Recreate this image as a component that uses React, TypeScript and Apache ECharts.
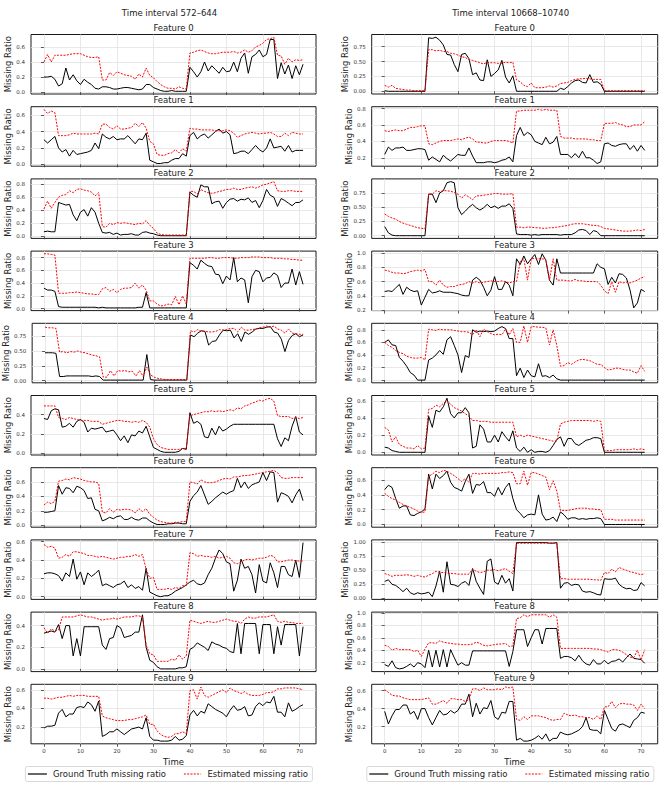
import React, { useEffect, useRef } from "react";
import * as echarts from "echarts";

// ---------- data ----------
const timeIdx: number[] = Array.from({ length: 72 }, (_, i) => i);
const xTicks = [0, 10, 20, 30, 40, 50, 60, 70];
const columnTitles = ["Time interval 572\u2013644", "Time interval 10668\u201310740"];
const featureNames = ["Feature 0", "Feature 1", "Feature 2", "Feature 3", "Feature 4", "Feature 5", "Feature 6", "Feature 7", "Feature 8", "Feature 9"];
const seriesNames = ["Ground Truth missing ratio", "Estimated missing ratio"];

// Left column (572–644)
const L0_gt = [0.20,0.20,0.21,0.17,0.08,0.11,0.32,0.16,0.23,0.15, 0.10,0.17,0.13,0.10,0.05,0.04,0.07,0.07,0.06,0.04, 0.04,0.05,0.06,0.06,0.05,0.04,0.03,0.04,0.10,0.10, 0.06,0.04,0.02,0.01,0.01,0.02,0.01,0.01,0.01,0.01, 0.33,0.27,0.20,0.27,0.40,0.28,0.35,0.30,0.25,0.33, 0.27,0.28,0.40,0.27,0.45,0.52,0.25,0.47,0.50,0.56, 0.47,0.50,0.70,0.70,0.18,0.39,0.24,0.36,0.18,0.35, 0.23,0.37];
const L0_est = [0.40,0.50,0.40,0.49,0.49,0.49,0.49,0.50,0.51,0.51, 0.51,0.49,0.47,0.46,0.46,0.47,0.16,0.16,0.26,0.22, 0.27,0.25,0.23,0.22,0.21,0.17,0.24,0.20,0.32,0.22, 0.19,0.14,0.10,0.07,0.05,0.05,0.04,0.07,0.05,0.04, 0.52,0.53,0.55,0.56,0.54,0.52,0.51,0.51,0.52,0.53, 0.53,0.53,0.54,0.52,0.53,0.56,0.53,0.55,0.60,0.62, 0.65,0.70,0.71,0.73,0.49,0.48,0.37,0.45,0.40,0.43, 0.42,0.43];
const L1_gt = [0.30,0.26,0.30,0.34,0.20,0.15,0.18,0.10,0.17,0.12, 0.13,0.14,0.15,0.17,0.26,0.19,0.37,0.33,0.31,0.34, 0.30,0.31,0.31,0.35,0.30,0.25,0.31,0.30,0.38,0.05, 0.03,0.01,0.01,0.02,0.02,0.05,0.07,0.07,0.13,0.10, 0.35,0.39,0.31,0.35,0.37,0.32,0.36,0.40,0.43,0.38, 0.40,0.36,0.13,0.14,0.16,0.16,0.13,0.18,0.23,0.18, 0.15,0.20,0.31,0.20,0.21,0.22,0.16,0.23,0.15,0.17, 0.17,0.17];
const L1_est = [0.67,0.62,0.65,0.63,0.35,0.35,0.35,0.36,0.38,0.37, 0.37,0.37,0.37,0.37,0.38,0.37,0.49,0.49,0.45,0.43, 0.47,0.43,0.43,0.44,0.45,0.50,0.46,0.51,0.44,0.28, 0.25,0.12,0.11,0.11,0.13,0.14,0.18,0.14,0.19,0.16, 0.44,0.43,0.43,0.42,0.42,0.42,0.42,0.41,0.41,0.41, 0.42,0.41,0.38,0.33,0.35,0.37,0.38,0.39,0.38,0.37, 0.38,0.38,0.39,0.37,0.34,0.34,0.38,0.35,0.39,0.38, 0.37,0.37];
const L2_gt = [0.07,0.08,0.07,0.07,0.52,0.50,0.48,0.49,0.33,0.24, 0.37,0.41,0.31,0.44,0.37,0.20,0.06,0.05,0.06,0.03, 0.05,0.02,0.03,0.03,0.04,0.02,0.02,0.06,0.07,0.05, 0.04,0.02,0.01,0.01,0.01,0.01,0.01,0.01,0.01,0.01, 0.68,0.63,0.60,0.79,0.76,0.76,0.50,0.53,0.54,0.43, 0.52,0.57,0.58,0.54,0.57,0.56,0.59,0.52,0.55,0.44, 0.55,0.72,0.63,0.60,0.46,0.58,0.55,0.51,0.47,0.52, 0.52,0.56];
const L2_est = [0.42,0.54,0.43,0.52,0.60,0.63,0.64,0.70,0.67,0.72, 0.73,0.71,0.70,0.68,0.62,0.67,0.15,0.14,0.20,0.18, 0.21,0.20,0.21,0.20,0.19,0.18,0.20,0.19,0.24,0.17, 0.12,0.05,0.03,0.02,0.02,0.02,0.02,0.02,0.02,0.02, 0.69,0.69,0.65,0.72,0.69,0.67,0.66,0.67,0.69,0.70, 0.72,0.72,0.74,0.72,0.72,0.74,0.75,0.76,0.74,0.76, 0.79,0.80,0.82,0.84,0.70,0.69,0.69,0.70,0.70,0.69, 0.69,0.69];
const L3_gt = [0.32,0.29,0.29,0.27,0.03,0.02,0.02,0.02,0.02,0.02, 0.02,0.02,0.02,0.02,0.02,0.01,0.02,0.01,0.01,0.01, 0.01,0.01,0.01,0.01,0.01,0.01,0.02,0.02,0.25,0.01, 0.01,0.01,0.01,0.01,0.01,0.01,0.01,0.01,0.01,0.01, 0.72,0.68,0.62,0.76,0.71,0.67,0.66,0.54,0.53,0.39, 0.51,0.45,0.80,0.42,0.48,0.45,0.09,0.50,0.60,0.58, 0.42,0.48,0.49,0.56,0.52,0.33,0.40,0.40,0.62,0.37, 0.58,0.38];
const L3_est = [0.86,0.86,0.85,0.84,0.24,0.24,0.24,0.25,0.25,0.26, 0.25,0.24,0.23,0.23,0.22,0.22,0.31,0.33,0.27,0.30, 0.25,0.30,0.32,0.32,0.33,0.40,0.32,0.37,0.29,0.12, 0.12,0.07,0.04,0.05,0.07,0.06,0.19,0.06,0.20,0.07, 0.79,0.79,0.79,0.79,0.79,0.80,0.80,0.79,0.79,0.80, 0.80,0.80,0.79,0.79,0.80,0.80,0.80,0.81,0.81,0.81, 0.80,0.80,0.80,0.79,0.79,0.79,0.78,0.78,0.77,0.77, 0.76,0.76];
const L4_gt = [0.47,0.47,0.47,0.46,0.07,0.07,0.08,0.08,0.08,0.08, 0.08,0.08,0.08,0.07,0.08,0.07,0.01,0.01,0.01,0.01, 0.01,0.01,0.01,0.01,0.01,0.01,0.01,0.01,0.44,0.02, 0.01,0.01,0.01,0.01,0.01,0.01,0.01,0.01,0.01,0.01, 0.77,0.74,0.80,0.84,0.83,0.60,0.66,0.67,0.77,0.85, 0.84,0.85,0.72,0.79,0.66,0.82,0.78,0.82,0.87,0.88, 0.88,0.90,0.91,0.82,0.80,0.70,0.49,0.68,0.76,0.79, 0.74,0.77];
const L4_est = [0.90,0.89,0.89,0.88,0.48,0.49,0.47,0.49,0.48,0.50, 0.48,0.47,0.45,0.43,0.42,0.40,0.06,0.06,0.17,0.08, 0.17,0.16,0.17,0.15,0.16,0.08,0.17,0.07,0.23,0.10, 0.06,0.04,0.03,0.02,0.02,0.02,0.02,0.02,0.02,0.02, 0.84,0.82,0.86,0.83,0.83,0.82,0.82,0.83,0.86,0.85, 0.86,0.88,0.88,0.82,0.90,0.85,0.85,0.86,0.87,0.89, 0.90,0.92,0.90,0.92,0.87,0.85,0.80,0.87,0.80,0.79, 0.78,0.78];
const L5_gt = [0.36,0.35,0.44,0.46,0.45,0.27,0.28,0.31,0.27,0.33, 0.35,0.32,0.22,0.26,0.25,0.26,0.27,0.22,0.23,0.24, 0.19,0.13,0.18,0.11,0.19,0.18,0.23,0.21,0.28,0.17, 0.06,0.04,0.02,0.01,0.01,0.01,0.01,0.02,0.05,0.04, 0.42,0.31,0.33,0.30,0.17,0.16,0.26,0.19,0.28,0.23, 0.25,0.28,0.30,0.30,0.30,0.30,0.30,0.30,0.30,0.30, 0.30,0.30,0.30,0.30,0.15,0.07,0.16,0.13,0.28,0.38, 0.22,0.19];
const L5_est = [0.49,0.49,0.49,0.49,0.37,0.36,0.35,0.37,0.36,0.35, 0.34,0.34,0.34,0.33,0.33,0.33,0.30,0.31,0.32,0.33, 0.34,0.34,0.33,0.33,0.32,0.33,0.32,0.34,0.32,0.27, 0.15,0.09,0.06,0.05,0.04,0.04,0.04,0.04,0.05,0.05, 0.39,0.40,0.41,0.42,0.43,0.43,0.44,0.43,0.44,0.43, 0.44,0.45,0.44,0.47,0.46,0.49,0.50,0.52,0.53,0.55, 0.54,0.56,0.57,0.54,0.39,0.38,0.38,0.38,0.36,0.37, 0.36,0.37];
const L6_gt = [0.18,0.18,0.19,0.20,0.55,0.43,0.52,0.51,0.45,0.54, 0.52,0.48,0.37,0.38,0.22,0.20,0.06,0.08,0.11,0.09, 0.12,0.13,0.08,0.08,0.11,0.08,0.07,0.10,0.10,0.06, 0.03,0.01,0.01,0.01,0.02,0.02,0.03,0.03,0.02,0.02, 0.33,0.41,0.46,0.55,0.42,0.29,0.33,0.38,0.42,0.46, 0.43,0.46,0.48,0.65,0.52,0.60,0.51,0.56,0.58,0.60, 0.73,0.62,0.74,0.73,0.32,0.45,0.43,0.40,0.31,0.42, 0.50,0.34];
const L6_est = [0.28,0.32,0.30,0.33,0.61,0.62,0.64,0.63,0.66,0.65, 0.64,0.62,0.61,0.60,0.60,0.58,0.18,0.17,0.23,0.18, 0.22,0.21,0.22,0.22,0.21,0.17,0.23,0.19,0.23,0.15, 0.11,0.07,0.05,0.04,0.03,0.03,0.04,0.04,0.05,0.05, 0.60,0.59,0.57,0.63,0.60,0.59,0.59,0.60,0.62,0.64, 0.65,0.64,0.67,0.67,0.68,0.69,0.69,0.70,0.71,0.72, 0.73,0.74,0.75,0.76,0.73,0.66,0.65,0.65,0.66,0.66, 0.66,0.66];
const L7_gt = [0.25,0.26,0.26,0.25,0.23,0.17,0.26,0.22,0.41,0.19, 0.27,0.13,0.26,0.22,0.25,0.29,0.12,0.14,0.12,0.10, 0.13,0.14,0.17,0.10,0.13,0.09,0.11,0.07,0.31,0.05, 0.03,0.01,0.00,0.01,0.01,0.03,0.06,0.08,0.10,0.13, 0.16,0.18,0.14,0.13,0.15,0.24,0.31,0.42,0.51,0.47, 0.38,0.36,0.06,0.18,0.41,0.31,0.33,0.24,0.04,0.35, 0.17,0.15,0.37,0.26,0.10,0.33,0.33,0.24,0.22,0.40, 0.21,0.59];
const L7_est = [0.57,0.54,0.55,0.53,0.42,0.43,0.46,0.44,0.49,0.49, 0.48,0.47,0.45,0.45,0.44,0.43,0.44,0.43,0.42,0.41, 0.42,0.43,0.43,0.44,0.44,0.46,0.44,0.46,0.30,0.20, 0.21,0.08,0.08,0.08,0.09,0.08,0.10,0.09,0.12,0.12, 0.48,0.47,0.44,0.45,0.44,0.44,0.43,0.44,0.42,0.43, 0.44,0.42,0.37,0.36,0.38,0.40,0.41,0.40,0.41,0.42, 0.42,0.43,0.45,0.44,0.38,0.38,0.39,0.40,0.40,0.39, 0.39,0.39];
const L8_gt = [0.33,0.34,0.35,0.34,0.41,0.28,0.40,0.40,0.12,0.28, 0.12,0.39,0.39,0.39,0.39,0.39,0.22,0.18,0.28,0.29, 0.40,0.38,0.29,0.30,0.31,0.34,0.34,0.50,0.20,0.08, 0.06,0.02,0.00,0.00,0.00,0.00,0.00,0.01,0.01,0.02, 0.18,0.20,0.24,0.22,0.20,0.17,0.25,0.23,0.22,0.20, 0.19,0.16,0.15,0.42,0.14,0.42,0.42,0.42,0.42,0.14, 0.41,0.41,0.41,0.14,0.39,0.22,0.41,0.41,0.41,0.41, 0.12,0.39];
const L8_est = [0.38,0.33,0.37,0.35,0.36,0.48,0.48,0.48,0.48,0.49, 0.50,0.49,0.48,0.48,0.47,0.46,0.45,0.46,0.46,0.47, 0.46,0.47,0.48,0.48,0.48,0.49,0.49,0.48,0.22,0.14, 0.13,0.07,0.07,0.07,0.07,0.09,0.08,0.13,0.09,0.12, 0.45,0.44,0.43,0.42,0.43,0.44,0.43,0.43,0.44,0.45, 0.46,0.45,0.44,0.44,0.42,0.46,0.48,0.47,0.47,0.48, 0.48,0.48,0.49,0.50,0.44,0.43,0.44,0.43,0.43,0.42, 0.42,0.42];
const L9_gt = [0.19,0.21,0.21,0.22,0.35,0.39,0.31,0.34,0.34,0.41, 0.42,0.41,0.47,0.44,0.37,0.48,0.10,0.12,0.15,0.15, 0.18,0.15,0.12,0.15,0.18,0.19,0.20,0.18,0.30,0.10, 0.06,0.06,0.05,0.05,0.05,0.06,0.10,0.06,0.07,0.11, 0.33,0.38,0.32,0.37,0.35,0.45,0.42,0.39,0.37,0.35, 0.31,0.38,0.43,0.38,0.39,0.42,0.32,0.33,0.42,0.46, 0.43,0.47,0.46,0.53,0.36,0.36,0.31,0.46,0.37,0.39, 0.42,0.44];
const L9_est = [0.51,0.51,0.50,0.51,0.52,0.52,0.53,0.54,0.53,0.54, 0.54,0.54,0.53,0.53,0.53,0.53,0.32,0.30,0.29,0.28, 0.27,0.27,0.27,0.28,0.28,0.29,0.30,0.31,0.33,0.23, 0.23,0.16,0.12,0.10,0.09,0.10,0.13,0.13,0.15,0.13, 0.59,0.60,0.50,0.63,0.54,0.52,0.54,0.56,0.58,0.60, 0.57,0.62,0.59,0.58,0.56,0.58,0.55,0.54,0.54,0.54, 0.55,0.57,0.57,0.58,0.61,0.61,0.62,0.62,0.62,0.62, 0.61,0.60];

// Right column (10668–10740)
const R0_gt = [0.01,0.00,0.00,0.00,0.00,0.00,0.00,0.00,0.00,0.00, 0.00,0.00,0.90,0.89,0.91,0.86,0.78,0.62,0.61,0.45, 0.33,0.62,0.64,0.55,0.28,0.31,0.19,0.18,0.53,0.25, 0.30,0.36,0.52,0.24,0.14,0.26,0.00,0.00,0.00,0.00, 0.00,0.00,0.00,0.00,0.00,0.00,0.00,0.00,0.05,0.03, 0.08,0.14,0.18,0.19,0.15,0.14,0.28,0.15,0.16,0.12, 0.00,0.00,0.00,0.00,0.00,0.00,0.00,0.00,0.00,0.00, 0.00,0.00];
const R0_est = [0.10,0.07,0.10,0.05,0.04,0.03,0.02,0.02,0.01,0.01, 0.01,0.01,0.70,0.70,0.68,0.69,0.67,0.67,0.64,0.63, 0.61,0.58,0.57,0.53,0.52,0.50,0.48,0.46,0.49,0.48, 0.48,0.47,0.47,0.49,0.48,0.49,0.19,0.16,0.10,0.08, 0.14,0.06,0.06,0.06,0.07,0.09,0.07,0.09,0.13,0.14, 0.15,0.18,0.20,0.21,0.21,0.22,0.21,0.20,0.20,0.20, 0.01,0.01,0.01,0.01,0.01,0.01,0.01,0.01,0.01,0.01, 0.01,0.01];
const R1_gt = [0.24,0.33,0.29,0.32,0.32,0.33,0.29,0.29,0.30,0.31, 0.31,0.30,0.17,0.21,0.18,0.15,0.23,0.19,0.16,0.20, 0.24,0.23,0.23,0.32,0.22,0.14,0.14,0.14,0.15,0.15, 0.14,0.15,0.17,0.18,0.21,0.15,0.47,0.57,0.47,0.51, 0.48,0.40,0.38,0.36,0.45,0.37,0.39,0.46,0.24,0.24, 0.24,0.20,0.25,0.20,0.28,0.20,0.20,0.17,0.13,0.15, 0.37,0.38,0.35,0.34,0.36,0.37,0.37,0.30,0.35,0.28, 0.35,0.29];
const R1_est = [0.53,0.52,0.53,0.54,0.53,0.53,0.55,0.57,0.57,0.58, 0.59,0.59,0.37,0.36,0.38,0.40,0.41,0.41,0.41,0.42, 0.43,0.42,0.44,0.45,0.43,0.39,0.39,0.38,0.38,0.40, 0.41,0.41,0.41,0.41,0.40,0.38,0.77,0.77,0.78,0.78, 0.78,0.78,0.79,0.78,0.79,0.78,0.78,0.78,0.46,0.44, 0.44,0.44,0.43,0.43,0.43,0.43,0.42,0.42,0.41,0.41, 0.62,0.62,0.62,0.63,0.61,0.60,0.58,0.58,0.60,0.60, 0.60,0.64];
const R2_gt = [0.16,0.05,0.01,0.00,0.00,0.00,0.00,0.00,0.00,0.00, 0.00,0.00,0.73,0.73,0.58,0.75,0.79,0.93,0.95,0.93, 0.49,0.37,0.43,0.50,0.55,0.49,0.45,0.49,0.55,0.49, 0.52,0.48,0.52,0.52,0.56,0.48,0.03,0.02,0.02,0.02, 0.01,0.02,0.01,0.02,0.02,0.02,0.02,0.02,0.01,0.02, 0.02,0.02,0.05,0.10,0.11,0.09,0.02,0.09,0.07,0.00, 0.00,0.00,0.00,0.00,0.00,0.00,0.00,0.00,0.00,0.00, 0.00,0.00];
const R2_est = [0.38,0.34,0.31,0.29,0.25,0.22,0.20,0.18,0.16,0.14, 0.13,0.12,0.73,0.73,0.79,0.77,0.79,0.79,0.78,0.76, 0.73,0.66,0.72,0.68,0.63,0.70,0.70,0.71,0.72,0.73, 0.74,0.74,0.73,0.73,0.73,0.74,0.15,0.15,0.14,0.15, 0.15,0.14,0.14,0.13,0.13,0.14,0.14,0.15,0.16,0.17, 0.18,0.20,0.21,0.21,0.21,0.20,0.19,0.18,0.18,0.16, 0.13,0.12,0.11,0.10,0.09,0.08,0.08,0.08,0.09,0.10, 0.09,0.11];
const R3_gt = [0.46,0.47,0.46,0.51,0.56,0.42,0.52,0.48,0.46,0.47, 0.27,0.38,0.49,0.44,0.45,0.47,0.45,0.45,0.45,0.44, 0.43,0.41,0.40,0.40,0.62,0.66,0.62,0.52,0.40,0.48, 0.67,0.49,0.49,0.60,0.55,0.40,0.92,0.84,0.96,0.85, 0.92,0.98,0.84,0.99,0.90,0.62,0.55,0.92,0.72,0.72, 0.72,0.72,0.72,0.72,0.72,0.72,0.72,0.72,0.85,0.80, 0.78,0.56,0.66,0.58,0.71,0.70,0.65,0.48,0.23,0.30, 0.49,0.46];
const R3_est = [0.76,0.75,0.73,0.72,0.72,0.71,0.72,0.74,0.75,0.76, 0.75,0.77,0.60,0.60,0.55,0.62,0.55,0.52,0.53,0.53, 0.55,0.56,0.57,0.60,0.58,0.60,0.58,0.59,0.60,0.61, 0.60,0.60,0.61,0.60,0.58,0.60,0.60,0.88,0.92,0.62, 0.92,0.93,0.92,0.92,0.91,0.62,0.92,0.62,0.62,0.62, 0.61,0.61,0.63,0.61,0.61,0.60,0.60,0.60,0.60,0.55, 0.47,0.43,0.60,0.45,0.60,0.58,0.59,0.58,0.60,0.62, 0.65,0.67];
const R4_gt = [0.60,0.64,0.56,0.55,0.36,0.30,0.22,0.12,0.08,0.00, 0.00,0.00,0.32,0.35,0.40,0.47,0.41,0.64,0.69,0.55, 0.40,0.12,0.39,0.36,0.80,0.76,0.78,0.77,0.78,0.77, 0.78,0.82,0.85,0.82,0.66,0.66,0.07,0.19,0.04,0.16, 0.07,0.05,0.26,0.06,0.07,0.04,0.08,0.02,0.00,0.00, 0.00,0.00,0.00,0.00,0.00,0.00,0.00,0.00,0.00,0.00, 0.00,0.00,0.00,0.00,0.00,0.00,0.00,0.00,0.00,0.00, 0.00,0.00];
const R4_est = [0.60,0.55,0.52,0.47,0.44,0.42,0.38,0.36,0.35,0.35, 0.36,0.32,0.81,0.80,0.79,0.81,0.80,0.80,0.80,0.79, 0.78,0.77,0.77,0.76,0.72,0.80,0.69,0.81,0.77,0.74, 0.72,0.73,0.72,0.81,0.72,0.82,0.60,0.60,0.86,0.60, 0.85,0.85,0.84,0.84,0.83,0.56,0.80,0.55,0.22,0.23, 0.28,0.25,0.29,0.32,0.33,0.32,0.31,0.28,0.25,0.25, 0.20,0.16,0.17,0.19,0.19,0.17,0.16,0.16,0.13,0.11, 0.23,0.14];
const R5_gt = [0.06,0.05,0.02,0.01,0.00,0.00,0.00,0.00,0.00,0.00, 0.00,0.00,0.42,0.29,0.49,0.47,0.53,0.63,0.45,0.40, 0.46,0.46,0.52,0.46,0.05,0.07,0.32,0.27,0.12,0.12, 0.20,0.12,0.24,0.18,0.13,0.25,0.05,0.01,0.06,0.00, 0.03,0.00,0.01,0.01,0.00,0.02,0.08,0.15,0.18,0.07, 0.16,0.16,0.10,0.08,0.11,0.14,0.15,0.17,0.17,0.16, 0.00,0.00,0.00,0.00,0.00,0.00,0.00,0.00,0.00,0.00, 0.00,0.00];
const R5_est = [0.29,0.26,0.12,0.18,0.09,0.07,0.05,0.05,0.04,0.08, 0.04,0.05,0.50,0.51,0.55,0.53,0.57,0.60,0.56,0.52, 0.50,0.48,0.45,0.42,0.37,0.37,0.36,0.36,0.36,0.35, 0.35,0.35,0.35,0.35,0.35,0.35,0.18,0.20,0.18,0.20, 0.19,0.18,0.17,0.16,0.15,0.14,0.13,0.13,0.33,0.35, 0.36,0.37,0.37,0.37,0.37,0.37,0.37,0.36,0.37,0.36, 0.02,0.02,0.02,0.03,0.03,0.03,0.03,0.03,0.04,0.03, 0.04,0.03];
const R6_gt = [0.47,0.53,0.50,0.35,0.22,0.25,0.25,0.13,0.12,0.15, 0.17,0.21,0.68,0.48,0.68,0.62,0.66,0.72,0.57,0.50, 0.48,0.45,0.58,0.68,0.42,0.54,0.53,0.58,0.43,0.43, 0.38,0.50,0.40,0.50,0.56,0.35,0.20,0.15,0.09,0.13, 0.14,0.13,0.40,0.14,0.06,0.07,0.10,0.04,0.17,0.13, 0.07,0.09,0.09,0.07,0.08,0.07,0.08,0.08,0.09,0.08, 0.00,0.00,0.00,0.00,0.00,0.00,0.00,0.00,0.00,0.00, 0.00,0.00];
const R6_est = [0.42,0.38,0.35,0.33,0.30,0.27,0.25,0.23,0.21,0.18, 0.16,0.17,0.65,0.68,0.72,0.70,0.73,0.72,0.69,0.66, 0.62,0.58,0.62,0.57,0.69,0.69,0.68,0.69,0.69,0.69, 0.69,0.69,0.70,0.70,0.71,0.70,0.55,0.55,0.72,0.53, 0.70,0.70,0.68,0.66,0.64,0.47,0.59,0.45,0.19,0.19, 0.19,0.20,0.21,0.22,0.22,0.22,0.21,0.21,0.20,0.20, 0.07,0.07,0.07,0.06,0.06,0.06,0.06,0.06,0.06,0.06, 0.06,0.06];
const R7_gt = [0.30,0.33,0.25,0.23,0.18,0.12,0.18,0.10,0.07,0.10, 0.08,0.09,0.11,0.03,0.22,0.48,0.11,0.65,0.25,0.24, 0.21,0.27,0.30,0.23,0.53,0.30,0.18,0.07,0.66,0.70, 0.29,0.25,0.41,0.27,0.35,0.13,0.99,0.99,0.99,0.99, 0.99,0.99,0.99,0.99,0.99,0.98,0.98,0.99,0.18,0.27, 0.28,0.23,0.25,0.24,0.13,0.11,0.12,0.10,0.07,0.06, 0.35,0.34,0.34,0.36,0.25,0.20,0.17,0.18,0.14,0.15, 0.28,0.22];
const R7_est = [0.44,0.42,0.39,0.41,0.41,0.41,0.42,0.41,0.39,0.41, 0.39,0.38,0.41,0.44,0.48,0.46,0.46,0.45,0.44,0.44, 0.43,0.43,0.43,0.43,0.52,0.48,0.46,0.47,0.50,0.50, 0.51,0.49,0.51,0.53,0.48,0.44,0.98,0.98,0.98,0.98, 0.98,0.98,0.98,0.98,0.98,0.98,0.98,0.98,0.35,0.35, 0.34,0.34,0.34,0.34,0.34,0.34,0.34,0.33,0.33,0.32, 0.46,0.44,0.52,0.47,0.55,0.52,0.50,0.47,0.46,0.44, 0.42,0.44];
const R8_gt = [0.17,0.14,0.23,0.12,0.10,0.11,0.14,0.18,0.13,0.20, 0.18,0.12,0.40,0.13,0.40,0.13,0.41,0.13,0.41,0.28, 0.16,0.20,0.16,0.16,0.39,0.39,0.39,0.39,0.39,0.39, 0.39,0.39,0.39,0.39,0.14,0.38,0.73,0.73,0.73,0.46, 0.60,0.73,0.73,0.50,0.75,0.75,0.75,0.75,0.27,0.30, 0.30,0.28,0.23,0.32,0.23,0.18,0.16,0.25,0.18,0.18, 0.24,0.18,0.22,0.23,0.26,0.21,0.28,0.34,0.27,0.26, 0.25,0.19];
const R8_est = [0.48,0.46,0.40,0.43,0.41,0.41,0.41,0.41,0.38,0.40, 0.30,0.42,0.52,0.52,0.51,0.55,0.53,0.52,0.51,0.50, 0.50,0.49,0.49,0.49,0.50,0.53,0.51,0.48,0.47,0.48, 0.49,0.50,0.50,0.51,0.46,0.47,0.91,0.92,0.97,0.94, 0.97,0.97,0.97,0.97,0.97,0.93,0.97,0.93,0.43,0.43, 0.43,0.43,0.43,0.43,0.43,0.43,0.43,0.42,0.42,0.41, 0.39,0.37,0.41,0.41,0.40,0.37,0.33,0.29,0.28,0.40, 0.24,0.41];
const R9_gt = [0.37,0.23,0.32,0.39,0.39,0.44,0.44,0.34,0.37,0.28, 0.40,0.40,0.30,0.22,0.30,0.38,0.33,0.34,0.38,0.35, 0.38,0.45,0.45,0.56,0.31,0.46,0.34,0.41,0.40,0.49, 0.31,0.28,0.36,0.35,0.48,0.48,0.05,0.07,0.04,0.04, 0.05,0.07,0.10,0.06,0.12,0.04,0.07,0.07,0.14,0.12, 0.11,0.12,0.14,0.16,0.20,0.30,0.17,0.16,0.16,0.12, 0.38,0.28,0.18,0.15,0.22,0.23,0.21,0.19,0.27,0.30, 0.36,0.35];
const R9_est = [0.61,0.58,0.55,0.54,0.54,0.52,0.51,0.50,0.50,0.50, 0.50,0.51,0.52,0.45,0.45,0.47,0.49,0.46,0.51,0.51, 0.50,0.50,0.48,0.50,0.62,0.62,0.60,0.63,0.61,0.61, 0.61,0.62,0.61,0.64,0.63,0.64,0.28,0.27,0.31,0.28, 0.32,0.32,0.32,0.31,0.30,0.28,0.27,0.28,0.28,0.35, 0.33,0.32,0.33,0.31,0.31,0.30,0.30,0.28,0.32,0.28, 0.42,0.42,0.48,0.41,0.45,0.46,0.45,0.45,0.44,0.38, 0.45,0.40];

const leftGT = [L0_gt, L1_gt, L2_gt, L3_gt, L4_gt, L5_gt, L6_gt, L7_gt, L8_gt, L9_gt];
const leftEst = [L0_est, L1_est, L2_est, L3_est, L4_est, L5_est, L6_est, L7_est, L8_est, L9_est];
const rightGT = [R0_gt, R1_gt, R2_gt, R3_gt, R4_gt, R5_gt, R6_gt, R7_gt, R8_gt, R9_gt];
const rightEst = [R0_est, R1_est, R2_est, R3_est, R4_est, R5_est, R6_est, R7_est, R8_est, R9_est];

// y tick labels per subplot
const leftYTicks = [
  [0, 0.2, 0.4, 0.6], [0, 0.2, 0.4, 0.6], [0, 0.2, 0.4, 0.6, 0.8], [0, 0.2, 0.4, 0.6, 0.8], [0, 0.25, 0.5, 0.75],
  [0, 0.2, 0.4, 0.6], [0, 0.2, 0.4, 0.6], [0, 0.2, 0.4, 0.6], [0, 0.2, 0.4], [0.2, 0.4, 0.6],
];
const rightYTicks = [
  [0, 0.25, 0.5, 0.75], [0.2, 0.4, 0.6, 0.8], [0, 0.25, 0.5, 0.75, 1], [0.2, 0.4, 0.6, 0.8, 1], [0, 0.2, 0.4, 0.6, 0.8],
  [0, 0.2, 0.4, 0.6], [0, 0.2, 0.4, 0.6], [0, 0.25, 0.5, 0.75, 1], [0.2, 0.4, 0.6, 0.8, 1], [0.2, 0.4, 0.6],
];

// ---------- layout ----------
const FONT = "'DejaVu Sans', sans-serif";
const colLeft = [31, 371.7];
const colWidth = [285, 286];
const colCenter = [169.5, 510.6];
const legendLeft = [25.4, 366.8];
const plotTop0 = 34.5;
const plotStep = 72.2;
const plotH = 59.5;
const xMin = -3.55;
const xMax = 74.55;
const GT_COLOR = "#000000";
const EST_COLOR = "#ff0000";
const EST_DASH = [2, 1.3];

export default function App() {
  const ref = useRef<HTMLDivElement>(null);
  useEffect(() => {
    if (!ref.current) return;
    const chart = echarts.init(ref.current, undefined, { renderer: "svg" });
    const grid: any[] = [];
    const xAxis: any[] = [];
    const yAxis: any[] = [];
    const series: any[] = [];
    const graphic: any[] = [];
    const cols = [
      { gt: leftGT, est: leftEst, ticks: leftYTicks },
      { gt: rightGT, est: rightEst, ticks: rightYTicks },
    ];
    const txt = (x: number, y: number, text: string, align = "center") => ({
      type: "text", x, y, silent: true,
      style: { text, fill: "#222", fontSize: 8.5, fontFamily: FONT, align, verticalAlign: "middle" },
    });
    cols.forEach((col, c) => {
      graphic.push(txt(colCenter[c], 12.5, columnTitles[c]));
      // legend box (one per column)
      const lx = legendLeft[c];
      const ly = 774;
      graphic.push({
        type: "rect", silent: true,
        shape: { x: lx, y: ly - 7.5, width: 287, height: 15, r: 2 },
        style: { fill: "#fff", stroke: "#cfcfcf", lineWidth: 0.8 },
      });
      graphic.push({
        type: "line", silent: true,
        shape: { x1: lx + 2.5, y1: ly, x2: lx + 21.5, y2: ly },
        style: { stroke: GT_COLOR, lineWidth: 1.2 },
      });
      graphic.push(txt(lx + 27.5, ly, seriesNames[0], "left"));
      graphic.push({
        type: "line", silent: true,
        shape: { x1: lx + 158.5, y1: ly, x2: lx + 175.5, y2: ly },
        style: { stroke: EST_COLOR, lineWidth: 1.2, lineDash: EST_DASH },
      });
      graphic.push(txt(lx + 182, ly, seriesNames[1], "left"));

      for (let i = 0; i < 10; i++) {
        const g = c * 10 + i;
        const gt = col.gt[i];
        const est = col.est[i];
        const lo = Math.min(...gt, ...est);
        const hi = Math.max(...gt, ...est);
        const pad = (hi - lo) * 0.05;
        const yMin = lo - pad;
        const yMax = hi + pad;
        const ticks = col.ticks[i].filter((v) => v >= yMin - 1e-9 && v <= yMax + 1e-9);
        const dec = ticks.some((v) => Math.abs(v * 10 - Math.round(v * 10)) > 1e-6) ? 2 : 1;
        const top = plotTop0 + i * plotStep;
        grid.push({
          left: colLeft[c], top, width: colWidth[c], height: plotH,
          show: true, borderColor: "#1a1a1a", borderWidth: 1, backgroundColor: "#fff",
        });
        graphic.push(txt(colLeft[c] + colWidth[c] / 2, top - 6.3, featureNames[i]));
        const bottom = i === 9;
        xAxis.push({
          type: "value", gridIndex: g, min: xMin, max: xMax,
          axisLine: { show: false },
          axisTick: { show: true, customValues: xTicks, length: 3, lineStyle: { color: "#333", width: 0.8 } },
          axisLabel: { show: bottom, customValues: xTicks, fontSize: 5.5, color: "#333", fontFamily: FONT, margin: 4 },
          splitLine: { show: true, lineStyle: { color: "#e2e2e2", width: 0.8 } },
          name: bottom ? "Time" : "", nameLocation: "middle", nameGap: 14,
          nameTextStyle: { fontSize: 8.5, color: "#222", fontFamily: FONT },
        });
        yAxis.push({
          type: "value", gridIndex: g, min: yMin, max: yMax,
          axisLine: { show: false },
          axisTick: { show: true, customValues: ticks, length: 3, lineStyle: { color: "#333", width: 0.8 } },
          axisLabel: {
            customValues: ticks, fontSize: 5.5, color: "#333", fontFamily: FONT, margin: 6,
            formatter: (v: number) => v.toFixed(dec),
          },
          splitLine: { show: true, lineStyle: { color: "#e2e2e2", width: 0.8 } },
          name: "Missing Ratio", nameLocation: "middle", nameGap: 14,
          nameTextStyle: { fontSize: 8.5, color: "#222", fontFamily: FONT },
        });
        series.push({
          type: "line", name: seriesNames[0], xAxisIndex: g, yAxisIndex: g,
          data: gt.map((v, k) => [timeIdx[k], v]),
          symbol: "none", showSymbol: false,
          lineStyle: { color: GT_COLOR, width: 1 }, itemStyle: { color: GT_COLOR }, z: 3,
        });
        series.push({
          type: "line", name: seriesNames[1], xAxisIndex: g, yAxisIndex: g,
          data: est.map((v, k) => [timeIdx[k], v]),
          symbol: "none", showSymbol: false,
          lineStyle: { color: EST_COLOR, width: 1, type: EST_DASH }, itemStyle: { color: EST_COLOR }, z: 4,
        });
      }
    });
    chart.setOption({
      animation: false,
      backgroundColor: "#fff",
      textStyle: { fontFamily: FONT },
      grid, xAxis, yAxis, series, graphic,
    });
    return () => chart.dispose();
  }, []);
  return <div ref={ref} style={{ position: "absolute", left: 0, top: 0, width: 665, height: 789 }} />;
}
